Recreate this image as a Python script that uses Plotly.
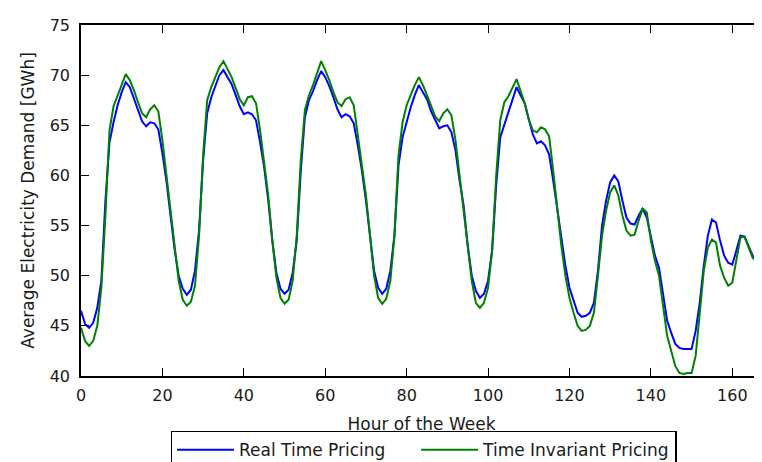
import plotly.graph_objects as go

# hourly demand over one week (GWh)
hours = list(range(168))

real_time = [
    46.5, 45.2, 44.8, 45.3, 46.8, 49.5, 57.5, 63.3, 65.3, 67.0, 68.3, 69.3,
    68.8, 67.7, 66.5, 65.4, 64.9, 65.3, 65.2, 64.6, 62.2, 59.4, 56.0, 52.6,
    50.0, 48.7, 48.1, 48.6, 50.5, 54.5, 61.5, 66.2, 67.8, 69.0, 70.0, 70.5,
    69.8, 69.1, 68.0, 66.9, 66.1, 66.3, 66.1, 65.5, 63.3, 60.8, 57.5, 53.5,
    50.3, 48.7, 48.2, 48.6, 50.3, 53.5, 60.5, 65.8, 67.5, 68.4, 69.5, 70.4,
    69.8, 68.9, 67.8, 66.6, 65.8, 66.1, 65.9, 65.2, 63.0, 60.5, 57.5, 53.8,
    50.5, 48.8, 48.2, 48.7, 50.5, 54.0, 61.0, 63.8, 65.3, 66.8, 68.0, 69.0,
    68.3, 67.6, 66.4, 65.5, 64.7, 64.9, 65.0, 64.3, 62.5, 59.5, 57.0, 53.0,
    50.0, 48.5, 47.8, 48.2, 49.5, 52.5, 59.0, 63.8, 65.1, 66.3, 67.6, 68.8,
    68.0, 67.2, 65.6, 64.1, 63.2, 63.4, 63.0, 62.1, 59.5, 56.5, 54.0, 51.0,
    48.8, 47.5, 46.3, 45.9, 46.0, 46.3, 47.3, 50.5, 55.0, 57.5, 59.3, 60.0,
    59.4, 57.5, 55.8, 55.2, 55.1, 56.0, 56.7, 55.8, 54.0, 52.0, 50.8, 48.0,
    45.5, 44.3, 43.2, 42.8, 42.7, 42.7, 42.7, 44.5, 47.3, 51.0, 54.0, 55.6,
    55.3, 53.5, 52.0, 51.3, 51.1, 52.5, 54.0, 53.9, 53.0, 52.0, 51.6, 51.2,
]

time_invariant = [
    44.8, 43.5, 43.0, 43.5, 45.0, 48.8, 56.0, 64.5, 66.9, 67.9, 69.1, 70.1,
    69.5, 68.5, 67.3, 66.2, 65.8, 66.6, 67.0, 66.4, 63.5, 60.0, 56.5, 52.5,
    49.5, 47.6, 47.0, 47.4, 49.0, 54.0, 62.0, 67.5, 68.8, 69.8, 70.8, 71.4,
    70.6, 69.8, 68.7, 67.6, 67.0, 67.8, 67.9, 67.2, 64.5, 61.5, 58.0, 53.5,
    49.8, 47.8, 47.2, 47.6, 49.5, 54.0, 61.5, 66.5, 68.0, 69.0, 70.3, 71.4,
    70.5, 69.5, 68.3, 67.3, 66.9, 67.6, 67.8, 67.0, 64.0, 61.0, 58.0, 54.0,
    50.0, 47.8, 47.2, 47.7, 49.5, 54.0, 62.0, 65.3, 67.0, 68.0, 69.0, 69.8,
    69.0, 68.0, 66.9, 65.9, 65.4, 66.2, 66.6, 66.0, 63.5, 60.0, 57.0, 53.0,
    49.5, 47.3, 46.8, 47.3, 48.8, 52.5, 60.0, 65.5, 67.3, 67.9, 68.8, 69.6,
    68.4, 67.2, 65.6, 64.5, 64.3, 64.8, 64.6, 63.9, 60.5, 56.5, 53.0, 50.0,
    47.8, 46.3, 45.0, 44.5, 44.6, 45.0, 46.3, 50.0, 54.0, 56.5, 58.3, 59.0,
    58.0, 56.0, 54.5, 54.0, 54.1, 55.5, 56.7, 56.3, 53.5, 51.5, 50.0, 47.0,
    44.0, 42.5, 41.0, 40.3, 40.2, 40.3, 40.3, 42.0, 46.0, 50.5, 52.8, 53.6,
    53.3, 51.0, 49.8, 49.0, 49.3, 51.5, 53.8, 53.9, 52.8, 51.8, 51.4, 48.0,
]

x_ticks = [0, 20, 40, 60, 80, 100, 120, 140, 160]
y_ticks = [40, 45, 50, 55, 60, 65, 70, 75]

tick_font = dict(family="DejaVu Sans", size=16, color="#1a1a1a")
title_font = dict(family="DejaVu Sans", size=17, color="#1a1a1a")

fig = go.Figure()
fig.add_trace(go.Scatter(x=hours, y=real_time, mode="lines",
                         name="Real Time Pricing", legendwidth=172,
                         line=dict(color="#0000ff", width=2)))
fig.add_trace(go.Scatter(x=hours, y=time_invariant, mode="lines",
                         name="Time Invariant Pricing", legendwidth=187,
                         yaxis="y2",
                         line=dict(color="#008000", width=2)))

# the page shows the figure 8px to the right, so it is 8px narrower
fig.update_layout(
    width=754, height=462,
    margin=dict(l=73, r=0, t=17, b=85),
    paper_bgcolor="white", plot_bgcolor="white",
    font=tick_font,
    showlegend=True,
    legend=dict(orientation="h", x=0.503, xanchor="center",
                y=-0.156, yanchor="top", itemwidth=57,
                bordercolor="black", borderwidth=1.5,
                font=title_font),
    xaxis=dict(range=[0, 167.3], tickvals=x_ticks, ticks="inside",
               ticklen=8, tickwidth=1, tickcolor="black",
               showline=True, linecolor="black", linewidth=1.5,
               mirror="ticks", showgrid=False, zeroline=False,
               automargin=False, tickfont=tick_font, ticklabelstandoff=4,
               title=dict(text="Hour of the Week", font=title_font,
                          standoff=14)),
    yaxis=dict(range=[40, 75], tickvals=y_ticks, ticks="inside",
               ticklen=8, tickwidth=1, tickcolor="black",
               showline=True, linecolor="black", linewidth=1.5,
               showgrid=False, zeroline=False, ticklabelstandoff=6,
               automargin=False, tickfont=tick_font,
               title=dict(text="Average Electricity Demand [GWh]",
                          font=title_font, standoff=11)),
    yaxis2=dict(range=[40, 75], tickvals=y_ticks, overlaying="y",
                side="right", ticks="inside", ticklen=8, tickwidth=1,
                tickcolor="black", showticklabels=False, showline=False,
                showgrid=False, zeroline=False, automargin=False),
)

fig.write_html("out.html")
